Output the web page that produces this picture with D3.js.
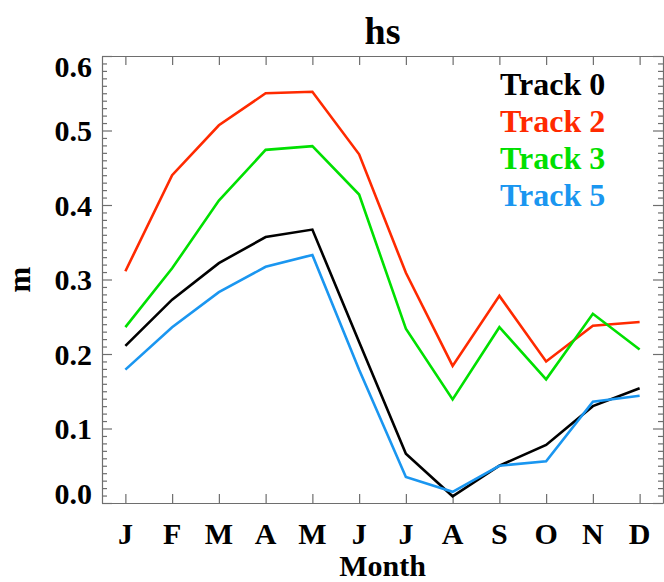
<!DOCTYPE html>
<html lang="en">
<head>
    <meta charset="UTF-8">
    <title>hs</title>
    <script src="https://d3js.org/d3.v7.min.js"></script>
    <style>
        body { margin: 0; background: #fff; }
        text { font-family: "Liberation Serif", "Times New Roman", serif; font-weight: bold; }
        .frame path, .frame line { stroke: #6e6e6e; stroke-width: 1.2px; }
        .series { fill: none; stroke-width: 2.6px; stroke-linejoin: miter; }
    </style>
</head>
<body>
    <script>
        // Monthly values
        var months = ["J", "F", "M", "A", "M", "J", "J", "A", "S", "O", "N", "D"];
        var yTicks = [0.0, 0.1, 0.2, 0.3, 0.4, 0.5, 0.6];

        var track0 = [0.211, 0.273, 0.322, 0.357, 0.367, 0.216, 0.066, 0.009, 0.050, 0.078, 0.130, 0.154];
        var track2 = [0.311, 0.440, 0.507, 0.550, 0.552, 0.468, 0.309, 0.184, 0.278, 0.190, 0.238, 0.243];
        var track3 = [0.236, 0.315, 0.406, 0.474, 0.479, 0.414, 0.234, 0.139, 0.236, 0.166, 0.254, 0.206];
        var track5 = [0.179, 0.236, 0.283, 0.317, 0.333, 0.179, 0.035, 0.015, 0.050, 0.056, 0.136, 0.144];

        var seriesNames = ["Track 0", "Track 2", "Track 3", "Track 5"];
        var seriesColors = ["#000000", "#ff2a00", "#00e000", "#1a96f0"];
        var seriesValues = [track0, track2, track3, track5];

        // Set the dimensions and margins of the diagram
        var W = 664, H = 582;
        var margin = {top: 56, right: 1, bottom: 79, left: 102},
            width = W - margin.left - margin.right,
            height = H - margin.top - margin.bottom;

        var svg = d3.select("body").append("svg")
            .attr("width", W)
            .attr("height", H);

        var g = svg.append("g")
            .attr("transform", "translate(" + margin.left + "," + margin.top + ")");

        var x = d3.scaleLinear().domain([0.5, 12.5]).range([0, width]);
        var y = d3.scaleLinear().domain([0, 0.6]).range([height, 0]);

        var monthIdx = d3.range(1, 13);
        var minorTicks = d3.range(0, 61).map(function(i) { return i / 100; })
            .filter(function(v, i) { return i % 10 !== 0; });

        // x ticks, bottom and top, pointing inward
        g.append("g").attr("class", "frame")
            .attr("transform", "translate(0," + height + ")")
            .call(d3.axisBottom(x).tickValues(monthIdx).tickSize(-9).tickSizeOuter(0).tickFormat(""));
        g.append("g").attr("class", "frame")
            .call(d3.axisTop(x).tickValues(monthIdx).tickSize(-9).tickSizeOuter(0).tickFormat(""));

        // y ticks, left and right, major + minor
        g.append("g").attr("class", "frame")
            .call(d3.axisLeft(y).tickValues(yTicks).tickSize(-10).tickSizeOuter(0).tickFormat(""));
        g.append("g").attr("class", "frame")
            .call(d3.axisLeft(y).tickValues(minorTicks).tickSize(-5).tickSizeOuter(0).tickFormat(""))
            .select(".domain").remove();
        g.append("g").attr("class", "frame")
            .attr("transform", "translate(" + width + ",0)")
            .call(d3.axisRight(y).tickValues(yTicks).tickSize(-10).tickSizeOuter(0).tickFormat(""));
        g.append("g").attr("class", "frame")
            .attr("transform", "translate(" + width + ",0)")
            .call(d3.axisRight(y).tickValues(minorTicks).tickSize(-5).tickSizeOuter(0).tickFormat(""))
            .select(".domain").remove();

        // y tick labels (end labels kept inside the frame)
        g.selectAll(".ylab")
            .data(yTicks)
            .enter().append("text")
            .attr("class", "ylab")
            .attr("x", -10)
            .attr("y", function(d) {
                return Math.min(height - 10, Math.max(10, y(d)));
            })
            .attr("dy", "0.36em")
            .attr("text-anchor", "end")
            .style("font-size", "30px")
            .text(function(d) { return d.toFixed(1); });

        // month labels
        g.selectAll(".xlab")
            .data(months)
            .enter().append("text")
            .attr("class", "xlab")
            .attr("x", function(d, i) { return x(i + 1); })
            .attr("y", height + 41)
            .attr("text-anchor", "middle")
            .style("font-size", "30px")
            .text(function(d) { return d; });

        // axis titles
        g.append("text")
            .attr("x", width / 2)
            .attr("y", height + 73)
            .attr("text-anchor", "middle")
            .style("font-size", "30px")
            .text("Month");

        svg.append("text")
            .attr("transform", "translate(30," + (margin.top + height / 2) + ") rotate(-90)")
            .attr("text-anchor", "middle")
            .style("font-size", "31px")
            .text("m");

        svg.append("text")
            .attr("x", margin.left + width / 2)
            .attr("y", 44)
            .attr("text-anchor", "middle")
            .style("font-size", "38px")
            .text("hs");

        // lines
        var line = d3.line()
            .x(function(d, i) { return x(i + 1); })
            .y(function(d) { return y(d); });

        g.selectAll(".series")
            .data(seriesValues)
            .enter().append("path")
            .attr("class", "series")
            .attr("stroke", function(d, i) { return seriesColors[i]; })
            .attr("d", line);

        // legend
        g.selectAll(".legend")
            .data(seriesNames)
            .enter().append("text")
            .attr("class", "legend")
            .attr("x", 398)
            .attr("y", function(d, i) { return 39 + i * 37; })
            .attr("fill", function(d, i) { return seriesColors[i]; })
            .style("font-size", "32px")
            .text(function(d) { return d; });
    </script>
</body>
</html>
